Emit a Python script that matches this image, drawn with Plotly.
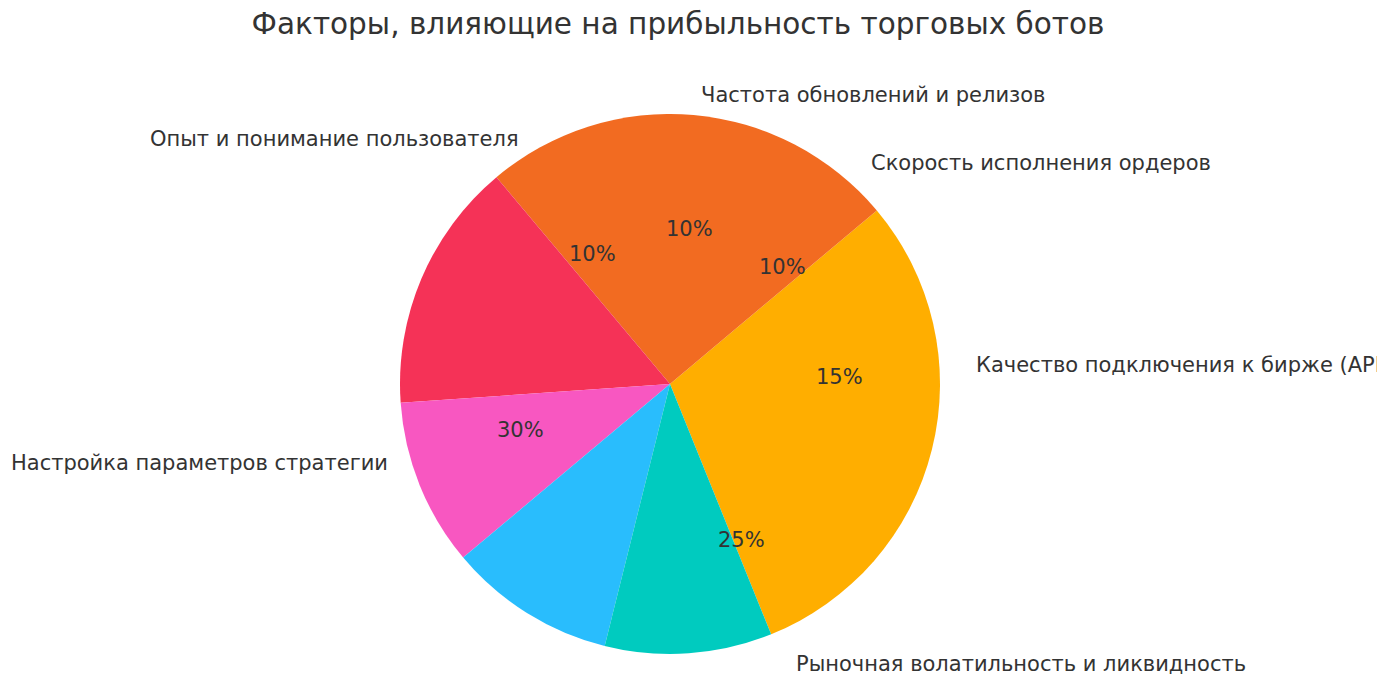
import math
import plotly.graph_objects as go

labels = ["Настройка параметров стратегии", "Рыночная волатильность и ликвидность",
          "Качество подключения к бирже (API)", "Скорость исполнения ордеров",
          "Частота обновлений и релизов", "Опыт и понимание пользователя"]
values = [30, 25, 15, 10, 10, 10]
colors = ["#FFAE00", "#F26B21", "#F53257", "#F857C1", "#29BDFD", "#00CBBF"]

W, H = 1385, 683
cx, cy, R = 670, 383, 270
start = 140.0
dx, dy = -8, -7  # plotly pie placement correction

fig = go.Figure(go.Pie(
    labels=labels, values=values, sort=False, direction="counterclockwise",
    rotation=start - 90, marker=dict(colors=colors), textinfo="none",
    domain=dict(x=[(cx + dx - R) / W, (cx + dx + R) / W],
                y=[1 - (cy + dy + R) / H, 1 - (cy + dy - R) / H]),
    showlegend=False,
))

total = sum(values)
ann = []
acc = 0
for lab, v in zip(labels, values):
    mid = math.radians(start + (acc + v / 2) / total * 360)
    acc += v
    c, s = math.cos(mid), math.sin(mid)
    lx, ly = cx + 1.1 * R * c, cy - 1.1 * R * s
    ann.append(dict(x=lx / W, y=1 - ly / H, xref="paper", yref="paper", text=lab,
                    showarrow=False, xanchor="left" if c > 0 else "right", yanchor="middle",
                    font=dict(size=21, color="#333333")))
    px, py = cx + 0.6 * R * c, cy - 0.6 * R * s
    ann.append(dict(x=px / W, y=1 - py / H, xref="paper", yref="paper",
                    text=f"{v / total * 100:.0f}%", showarrow=False,
                    xanchor="center", yanchor="middle",
                    font=dict(size=21, color="#333333")))

fig.update_layout(
    width=W, height=H, margin=dict(l=0, r=0, t=0, b=0),
    paper_bgcolor="white", plot_bgcolor="white",
    font=dict(family="DejaVu Sans", color="#333333"),
    title=dict(text="Факторы, влияющие на прибыльность торговых ботов",
               x=670 / W, xanchor="center", y=1 - 16 / H, yanchor="middle",
               font=dict(size=29.5, color="#333333")),
    annotations=ann,
)
fig.write_html("out.html")
